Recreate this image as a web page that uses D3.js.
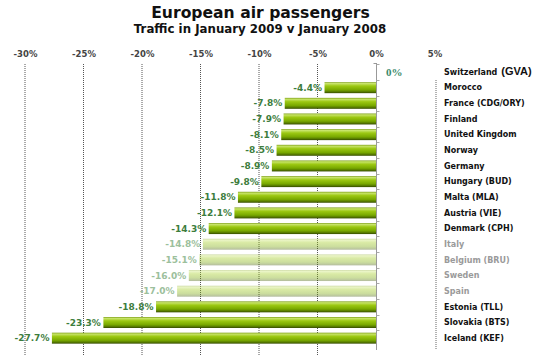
<!DOCTYPE html>
<html>
<head>
<meta charset="utf-8">
<script src="https://cdn.jsdelivr.net/npm/d3@7.9.0/dist/d3.min.js"></script>
<style>
  html, body { margin: 0; padding: 0; background: #fff; }
  svg { display: block; }
</style>
</head>
<body>
<div id="chart"></div>
<script>
const countries = ['Switzerland', 'Morocco', 'France', 'Finland', 'United Kingdom', 'Norway',
  'Germany', 'Hungary', 'Malta', 'Austria', 'Denmark', 'Italy', 'Belgium', 'Sweden',
  'Spain', 'Estonia', 'Slovakia', 'Iceland'];
const airports = ['GVA', '', 'CDG/ORY', '', '', '', '', 'BUD', 'MLA', 'VIE', 'CPH', '', 'BRU', '',
  '', 'TLL', 'BTS', 'KEF'];
const changes = [0, -4.4, -7.8, -7.9, -8.1, -8.5, -8.9, -9.8, -11.8, -12.1, -14.3, -14.8, -15.1,
  -16.0, -17.0, -18.8, -23.3, -27.7];
const faded = ['Italy', 'Belgium', 'Sweden', 'Spain'];
const ticks = [-30, -25, -20, -15, -10, -5, 0, 5];

const W = 546, H = 358;
const rows = countries.map((c, i) => ({country: c, code: airports[i], value: changes[i], faded: faded.includes(c)}));
const fmt = d3.formatLocale({decimal: '.', thousands: ',', grouping: [3], currency: ['', ''], minus: '-'}).format('.1f');

const x = d3.scaleLinear().domain([-30, 5]).range([25, 434.5]);
const y = d3.scaleBand().domain(countries).range([64.2, 346]).paddingInner(0.3).paddingOuter(0.15);

const svg = d3.select('#chart').append('svg')
  .attr('width', W).attr('height', H)
  .style('font-family', '"DejaVu Sans", Verdana, sans-serif');

const defs = svg.append('defs');
const grad = defs.append('linearGradient').attr('id', 'bar').attr('x1', 0).attr('x2', 0).attr('y1', 0).attr('y2', 1);
[[0, '#7a9c10'], [0.12, '#c8e46a'], [0.35, '#9cc812'], [0.7, '#78a800'], [0.88, '#557800'], [1, '#344a00']]
  .forEach(([o, c]) => grad.append('stop').attr('offset', o).attr('stop-color', c));

// title
svg.append('text').attr('x', 260.5).attr('y', 18).attr('text-anchor', 'middle')
  .attr('font-size', 15.6).attr('font-weight', 'bold').attr('fill', '#111')
  .text('European air passengers');
svg.append('text').attr('x', 260).attr('y', 32.5).attr('text-anchor', 'middle')
  .attr('font-size', 11.8).attr('font-weight', 'bold').attr('fill', '#111')
  .text('Traffic in January 2009 v January 2008');

// top axis labels
const ax = svg.append('g').attr('transform', 'translate(0,56.5)')
  .call(d3.axisTop(x).tickValues(ticks).tickSize(0).tickPadding(0).tickFormat(d => d + '%'));
ax.select('.domain').remove();
ax.selectAll('text').attr('font-size', 8.5).attr('font-weight', 'bold')
  .attr('fill', '#444').style('font-family', '"DejaVu Sans", Verdana, sans-serif');

// dotted gridlines
svg.append('g').selectAll('line')
  .data(ticks.filter(d => d < 0))
  .join('line')
    .attr('x1', d => x(d)).attr('x2', d => x(d))
    .attr('y1', 64).attr('y2', 356)
    .attr('stroke', '#555').attr('stroke-width', 1).attr('stroke-dasharray', '1,1');

svg.append('line')
  .attr('x1', x(5) + 1.5).attr('x2', x(5) + 1.5).attr('y1', 80).attr('y2', 350)
  .attr('stroke', '#666').attr('stroke-dasharray', '1,1');

// zero line with small ticks
const zx = Math.round(x(0)) + 0.5;
svg.append('line').attr('x1', zx).attr('x2', zx).attr('y1', 63).attr('y2', 350)
  .attr('stroke', '#999');
svg.append('line').attr('x1', zx - 3).attr('x2', zx).attr('y1', 63.5).attr('y2', 63.5).attr('stroke', '#999');
svg.append('g').selectAll('line')
  .data(countries)
  .join('line')
    .attr('x1', zx).attr('x2', zx + 3)
    .attr('y1', d => Math.round(y(d) - y.step() * 0.15) + 0.5)
    .attr('y2', d => Math.round(y(d) - y.step() * 0.15) + 0.5)
    .attr('stroke', '#aaa');

// bars
svg.append('g').selectAll('rect')
  .data(rows.filter(d => d.value < 0))
  .join('rect')
    .attr('x', d => x(d.value))
    .attr('y', d => y(d.country))
    .attr('width', d => x(0) - x(d.value))
    .attr('height', y.bandwidth())
    .attr('fill', 'url(#bar)')
    .attr('opacity', d => d.faded ? 0.38 : 1);

// value labels
svg.append('g').selectAll('text')
  .data(rows.filter(d => d.value < 0))
  .join('text')
    .attr('x', d => x(d.value) - 2.5)
    .attr('y', d => y(d.country) + y.bandwidth() / 2)
    .attr('dy', '0.35em')
    .attr('text-anchor', 'end')
    .attr('font-size', 9).attr('font-weight', 'bold')
    .attr('fill', d => d.faded ? '#9cc09c' : '#3d7d3d')
    .text(d => fmt(d.value) + '%');

svg.append('text')
  .attr('x', x(0) + 10).attr('y', y('Switzerland') + y.bandwidth() / 2).attr('dy', '0.35em')
  .attr('font-family', '"Liberation Serif", "Times New Roman", serif')
  .attr('font-size', 11).attr('font-weight', 'bold').attr('fill', '#3a8a6a')
  .text('0%');

// country labels
const lab = svg.append('g').selectAll('text')
  .data(rows)
  .join('text')
    .attr('x', 444)
    .attr('y', d => y(d.country) + y.bandwidth() / 2)
    .attr('dy', '0.35em')
    .attr('font-size', 8).attr('font-weight', 'bold')
    .attr('fill', d => d.faded ? '#9a9a9a' : '#111');
lab.append('tspan').text(d => d.country);
lab.filter(d => d.code && d.country !== 'Switzerland').append('tspan').text(d => ' (' + d.code + ')');
lab.filter(d => d.country === 'Switzerland').append('tspan')
  .attr('dx', 4)
  .attr('font-family', '"Liberation Sans", Arial, sans-serif')
  .attr('font-size', 11)
  .text(d => '(' + d.code + ')');
</script>
</body>
</html>
